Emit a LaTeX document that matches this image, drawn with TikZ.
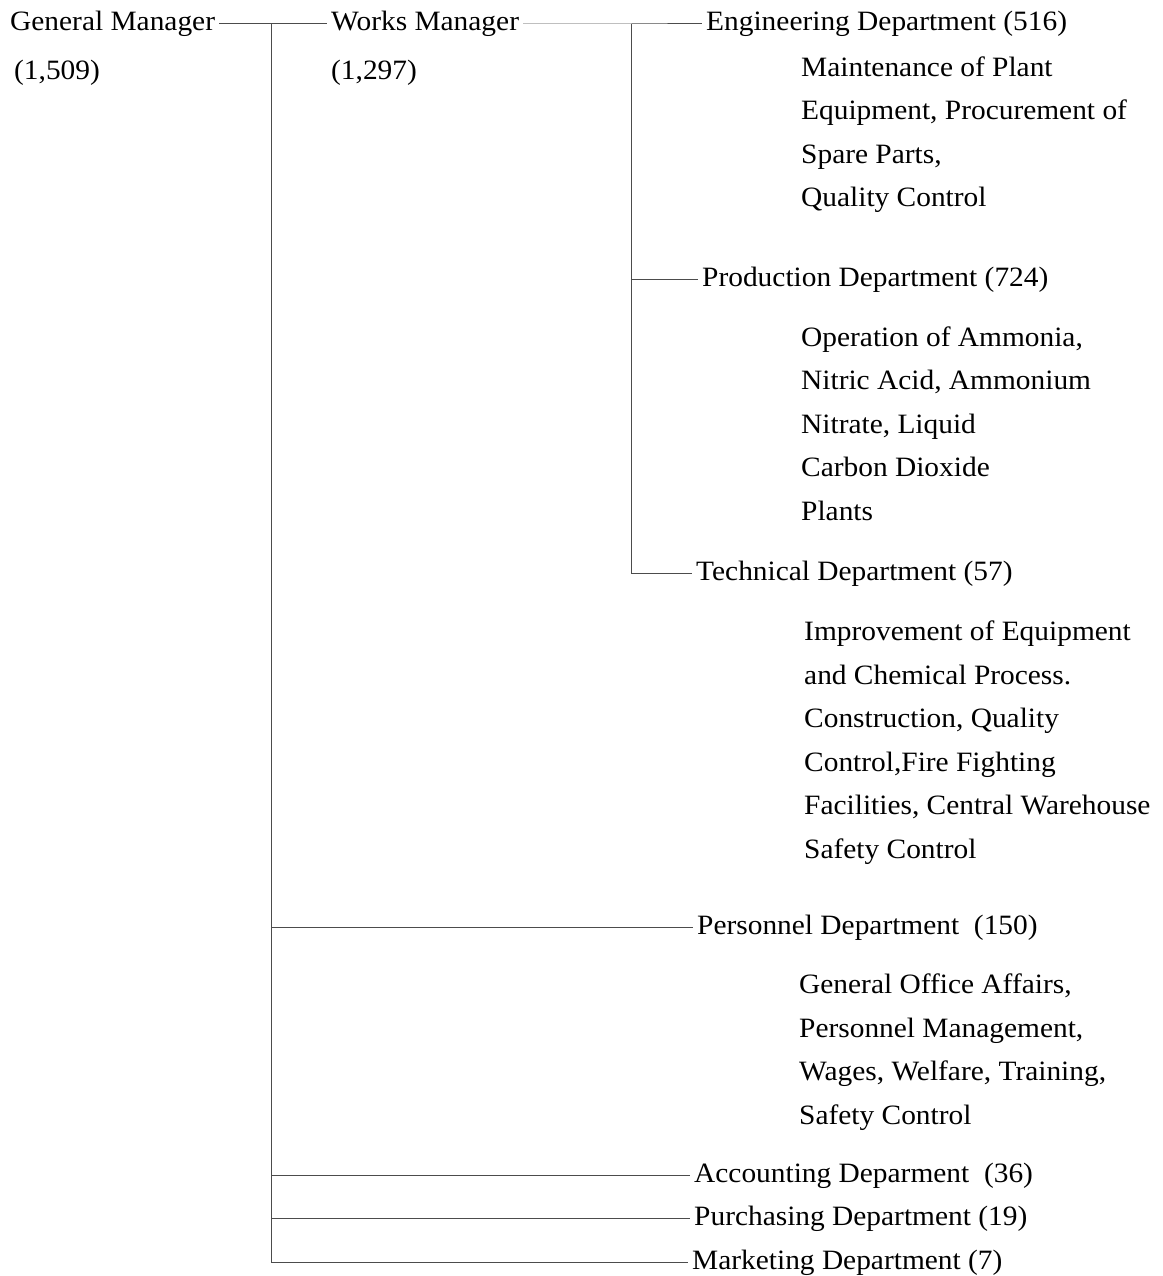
\documentclass[tikz,border=0pt]{standalone}
\usepackage{fontspec}
\setmainfont[FakeStretch=1.05]{Liberation Serif}
\begin{document}
\begin{tikzpicture}[x=1pt,y=-1pt,
  every node/.style={inner xsep=4pt, inner ysep=0pt, font=\fontsize{28}{43.5}\selectfont},
  lbl/.style={anchor=base west, text height=19pt, text depth=6pt},
  body/.style={anchor=base west, align=left},
  conn/.style={draw=black!70, line width=1pt}]
\useasboundingbox (0,0) rectangle (1162,1276);
\fill[white] (0,0) rectangle (1162,1276);
% titles (body nodes are placed at the baseline of their last line)
\node[lbl] (gm) at (6,31) {General Manager};
\node[lbl] (gmn) at (10,80) {(1,509)};
\node[lbl] (wm) at (327,31) {Works Manager};
\node[lbl] (wmn) at (327,80) {(1,297)};
\node[lbl] (eng) at (702,31) {Engineering Department (516)};
\node[body] (engb) at (797,207) {Maintenance of Plant\\Equipment, Procurement of\\Spare Parts,\\Quality Control};
\node[lbl] (prod) at (698,286) {Production Department (724)};
\node[body] (prodb) at (797,520) {Operation of Ammonia,\\Nitric Acid, Ammonium\\Nitrate, Liquid\\Carbon Dioxide\\Plants};
\node[lbl] (tech) at (692,580) {Technical Department (57)};
\node[body] (techb) at (800,858) {Improvement of Equipment\\and Chemical Process.\\Construction, Quality\\Control,Fire Fighting\\Facilities, Central Warehouse\\Safety Control};
\node[lbl] (pers) at (693,934) {Personnel Department\ \ (150)};
\node[body] (persb) at (795,1124) {General Office Affairs,\\Personnel Management,\\Wages, Welfare, Training,\\Safety Control};
\node[lbl] (acc) at (690,1182) {Accounting Deparment\ \ (36)};
\node[lbl] (pur) at (690,1225) {Purchasing Department (19)};
\node[lbl] (mkt) at (688,1269) {Marketing Department (7)};
% junctions
\coordinate (j1) at (271,24);
\coordinate (jm) at (271,1262);
\coordinate (j2) at (631,24);
\coordinate (j3) at (631,573);
% connectors
\draw[conn] (gm.east |- j1) -- (wm.west |- j1);
\draw[conn] (j1) -- (jm) -- (mkt.west |- jm);
\draw[conn] (wm.east |- j2) -- (j2) -- (eng.west |- j2);
\draw[conn] (j2) -- (j3) -- (tech.west |- j3);
\draw[conn] (j2 |- prod.west) -- (prod.west);
\draw[conn] (j1 |- pers.west) -- (pers.west);
\draw[conn] (j1 |- acc.west) -- (acc.west);
\draw[conn] (j1 |- pur.west) -- (pur.west);
\end{tikzpicture}
\end{document}
